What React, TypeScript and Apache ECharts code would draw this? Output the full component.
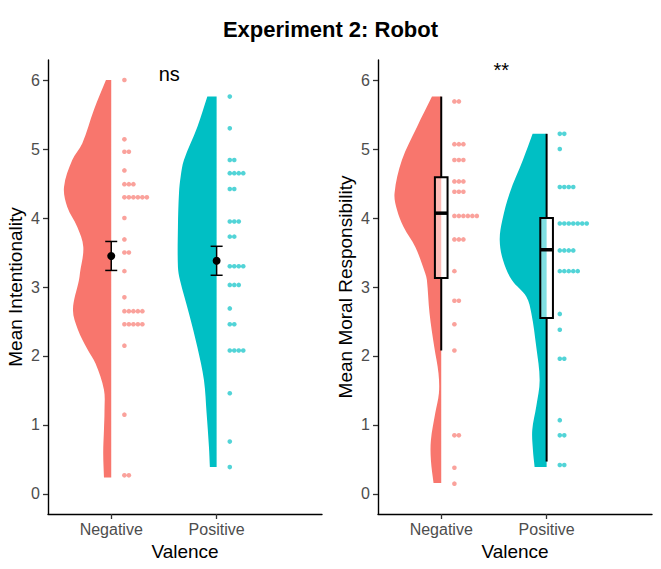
import React, { useEffect, useRef } from "react";
import * as echarts from "echarts";

const FONT = "'Liberation Sans', Arial, Helvetica, sans-serif";

const categories = ["Negative", "Positive"];
const yTicks = [0, 1, 2, 3, 4, 5, 6];
const colors = ["#F8766D", "#00BFC4"];
const dotColors = ["rgba(248,118,109,0.85)", "rgba(0,191,196,0.85)"];

// Panel 1: Mean Intentionality – individual scores
const intentNegative = [
  6.0, 5.14, 4.96, 4.96, 4.69, 4.49, 4.49, 4.49, 4.3, 4.3, 4.3, 4.3, 4.3, 4.3,
  4.0, 3.69, 3.5, 3.5, 3.23, 2.85, 2.65, 2.65, 2.65, 2.65, 2.65, 2.46, 2.46,
  2.46, 2.46, 2.46, 2.15, 1.15, 0.27, 0.27,
];
const intentPositive = [
  5.76, 5.3, 4.84, 4.84, 4.65, 4.65, 4.65, 4.65, 4.42, 4.42, 3.95, 3.95, 3.95,
  3.73, 3.73, 3.3, 3.3, 3.3, 3.3, 3.03, 3.03, 3.03, 2.69, 2.46, 2.46, 2.08,
  2.08, 2.08, 2.08, 1.46, 0.76, 0.39,
];
// Panel 1: mean and error bar
const intentMean = [3.45, 3.38];
const intentLow = [3.24, 3.17];
const intentHigh = [3.66, 3.59];

// Panel 2: Mean Moral Responsibility – individual scores
const moralNegative = [
  5.69, 5.69, 5.07, 5.07, 5.07, 4.84, 4.84, 4.84, 4.53, 4.53, 4.53, 4.38, 4.38,
  4.38, 4.03, 4.03, 4.03, 4.03, 4.03, 4.03, 3.69, 3.69, 3.69, 3.23, 2.8, 2.8,
  2.46, 2.08, 0.85, 0.85, 0.38, 0.15,
];
const moralPositive = [
  5.22, 5.22, 5.0, 4.45, 4.45, 4.45, 4.45, 3.92, 3.92, 3.92, 3.92, 3.92, 3.92,
  3.92, 3.53, 3.53, 3.53, 3.53, 3.23, 3.23, 3.23, 3.23, 3.23, 2.61, 2.38, 1.96,
  1.96, 1.07, 0.85, 0.85, 0.42, 0.42,
];
// Panel 2: boxplot stats
const moralMin = [2.08, 0.47];
const moralQ1 = [3.13, 2.55];
const moralMedian = [4.07, 3.54];
const moralQ3 = [4.59, 4.0];
const moralMax = [5.76, 5.22];

// Half-violin outlines: [score, half-width in category units]
const violinIntentNegative = [
  [6.0, 0.05], [5.57, 0.164], [5.08, 0.275], [4.84, 0.37], [4.45, 0.448],
  [4.16, 0.417], [3.87, 0.322], [3.58, 0.265], [3.2, 0.297], [3.1, 0.306],
  [2.67, 0.363], [2.38, 0.316], [2.1, 0.227], [1.89, 0.149], [1.51, 0.069],
  [1.2, 0.064], [0.93, 0.069], [0.59, 0.076], [0.24, 0.069],
];
const violinIntentPositive = [
  [5.76, 0.088], [5.32, 0.183], [4.84, 0.31], [4.6, 0.341], [4.36, 0.357],
  [3.87, 0.367], [3.29, 0.367], [3.1, 0.348], [2.62, 0.263], [2.13, 0.183],
  [1.65, 0.12], [1.17, 0.095], [0.69, 0.073], [0.39, 0.064],
];
const violinMoralNegative = [
  [5.76, 0.088], [5.32, 0.23], [4.84, 0.373], [4.36, 0.443], [4.12, 0.42],
  [3.87, 0.357], [3.58, 0.246], [3.2, 0.152], [3.1, 0.136], [2.62, 0.111],
  [2.13, 0.066], [1.75, 0.026], [1.46, 0.022], [1.17, 0.057], [0.78, 0.098],
  [0.49, 0.098], [0.16, 0.073],
];
const violinMoralPositive = [
  [5.22, 0.133], [4.84, 0.225], [4.36, 0.351], [3.97, 0.42], [3.68, 0.445],
  [3.39, 0.414], [3.1, 0.33], [2.86, 0.192], [2.62, 0.145], [2.13, 0.098],
  [1.65, 0.066], [1.27, 0.098], [0.93, 0.136], [0.64, 0.13], [0.39, 0.114],
];

// Significance labels
const annotations = [
  { grid: 0, x: 1.55, y: 6.08, text: "ns" },
  { grid: 1, x: 1.57, y: 6.15, text: "**" },
];

const DOT_OFFSET = 0.125;
const DOT_STEP = 0.0426;

function dotData(values: number[], center: number) {
  const counts: Record<string, number> = {};
  return values.map((v) => {
    const key = v.toFixed(3);
    const k = counts[key] || 0;
    counts[key] = k + 1;
    return [center + DOT_OFFSET + k * DOT_STEP, v];
  });
}

function violinSeries(outline: number[][], center: number, color: string, gridIndex: number) {
  return {
    type: "custom",
    xAxisIndex: gridIndex,
    yAxisIndex: gridIndex,
    silent: true,
    data: [[center, outline[0][0]]],
    renderItem: (params: any, api: any) => {
      const pts: number[][] = [];
      const top = outline[0][0];
      const bot = outline[outline.length - 1][0];
      const a = api.coord([center, top]);
      pts.push(a, a.slice());
      outline.forEach((row, i) => {
        const p = api.coord([center - row[1], row[0]]);
        pts.push(p);
        if (i === 0 || i === outline.length - 1) pts.push(p.slice());
      });
      const b = api.coord([center, bot]);
      pts.push(b, b.slice());
      return {
        type: "polygon",
        shape: { points: pts, smooth: 0.35 },
        style: { fill: color },
      };
    },
  };
}

export default function App() {
  const ref = useRef<HTMLDivElement>(null);

  useEffect(() => {
    document.body.style.margin = "0";
    if (!ref.current) return;
    const chart = echarts.init(ref.current, null, { renderer: "svg" });

    const grids = [
      { left: 48, top: 60, width: 274, height: 454 },
      { left: 378, top: 60, width: 274, height: 454 },
    ];
    const yNames = ["Mean Intentionality", "Mean Moral Responsibility"];

    const xAxis = [0, 1].map((i) => ({
      type: "value",
      gridIndex: i,
      min: 0.4,
      max: 3.0,
      axisLine: { show: true, onZero: false, lineStyle: { color: "#000", width: 1.4 } },
      axisTick: {
        show: true,
        customValues: [1, 2],
        length: 5,
        lineStyle: { color: "#333", width: 1.3 },
      },
      axisLabel: {
        customValues: [1, 2],
        formatter: (v: number) => categories[Math.round(v) - 1] || "",
        color: "#4d4d4d",
        fontSize: 16,
        margin: 7,
        fontFamily: FONT,
      },
      splitLine: { show: false },
      name: "Valence",
      nameLocation: "middle",
      nameGap: 27,
      nameTextStyle: { fontSize: 19, color: "#000", fontFamily: FONT },
    }));

    const yAxis = [0, 1].map((i) => ({
      type: "value",
      gridIndex: i,
      min: -0.29,
      max: 6.29,
      axisLine: { show: true, onZero: false, lineStyle: { color: "#000", width: 1.4 } },
      axisTick: {
        show: true,
        customValues: yTicks,
        length: 5,
        lineStyle: { color: "#333", width: 1.3 },
      },
      axisLabel: {
        customValues: yTicks,
        formatter: (v: number) => String(Math.round(v)),
        color: "#4d4d4d",
        fontSize: 16,
        margin: 8,
        fontFamily: FONT,
      },
      splitLine: { show: false },
      name: yNames[i],
      nameLocation: "middle",
      nameGap: 23,
      nameTextStyle: { fontSize: 19, color: "#000", fontFamily: FONT },
    }));

    const series: any[] = [
      violinSeries(violinIntentNegative, 1, colors[0], 0),
      violinSeries(violinIntentPositive, 2, colors[1], 0),
      violinSeries(violinMoralNegative, 1, colors[0], 1),
      violinSeries(violinMoralPositive, 2, colors[1], 1),
      {
        type: "scatter",
        xAxisIndex: 0,
        yAxisIndex: 0,
        symbolSize: 4.6,
        itemStyle: { color: dotColors[0] },
        data: dotData(intentNegative, 1),
      },
      {
        type: "scatter",
        xAxisIndex: 0,
        yAxisIndex: 0,
        symbolSize: 4.6,
        itemStyle: { color: dotColors[1] },
        data: dotData(intentPositive, 2),
      },
      {
        type: "custom",
        xAxisIndex: 0,
        yAxisIndex: 0,
        data: [0, 1].map((i) => [i + 1, intentMean[i], intentLow[i], intentHigh[i]]),
        renderItem: (params: any, api: any) => {
          const x = api.value(0);
          const m = api.coord([x, api.value(1)]);
          const lo = api.coord([x, api.value(2)]);
          const hi = api.coord([x, api.value(3)]);
          const capL = api.coord([x - 0.057, api.value(2)]);
          const capR = api.coord([x + 0.057, api.value(2)]);
          const capL2 = api.coord([x - 0.057, api.value(3)]);
          const capR2 = api.coord([x + 0.057, api.value(3)]);
          const ls = { stroke: "#000", lineWidth: 1.5 };
          return {
            type: "group",
            children: [
              { type: "line", shape: { x1: lo[0], y1: lo[1], x2: hi[0], y2: hi[1] }, style: ls },
              { type: "line", shape: { x1: capL[0], y1: capL[1], x2: capR[0], y2: capR[1] }, style: ls },
              { type: "line", shape: { x1: capL2[0], y1: capL2[1], x2: capR2[0], y2: capR2[1] }, style: ls },
              { type: "circle", shape: { cx: m[0], cy: m[1], r: 4 }, style: { fill: "#000" } },
            ],
          };
        },
      },
      {
        type: "custom",
        xAxisIndex: 1,
        yAxisIndex: 1,
        data: [0, 1].map((i) => [i + 1, moralMin[i], moralQ1[i], moralMedian[i], moralQ3[i], moralMax[i]]),
        renderItem: (params: any, api: any) => {
          const x = api.value(0);
          const hw = 0.06;
          const pMin = api.coord([x, api.value(1)]);
          const pQ1 = api.coord([x, api.value(2)]);
          const pQ3 = api.coord([x, api.value(4)]);
          const pMax = api.coord([x, api.value(5)]);
          const bl = api.coord([x - hw, api.value(4)]);
          const br = api.coord([x + hw, api.value(2)]);
          const mL = api.coord([x - hw, api.value(3)]);
          const mR = api.coord([x + hw, api.value(3)]);
          const ls = { stroke: "#000", lineWidth: 2 };
          return {
            type: "group",
            children: [
              { type: "line", shape: { x1: pQ3[0], y1: pQ3[1], x2: pMax[0], y2: pMax[1] }, style: ls },
              { type: "line", shape: { x1: pQ1[0], y1: pQ1[1], x2: pMin[0], y2: pMin[1] }, style: ls },
              {
                type: "rect",
                shape: { x: bl[0], y: bl[1], width: br[0] - bl[0], height: br[1] - bl[1] },
                style: { fill: "rgba(255,255,255,0.5)", stroke: "#000", lineWidth: 2 },
              },
              { type: "line", shape: { x1: mL[0], y1: mL[1], x2: mR[0], y2: mR[1] }, style: { stroke: "#000", lineWidth: 3.5 } },
            ],
          };
        },
      },
      {
        type: "scatter",
        xAxisIndex: 1,
        yAxisIndex: 1,
        symbolSize: 4.6,
        itemStyle: { color: dotColors[0] },
        data: dotData(moralNegative, 1),
      },
      {
        type: "scatter",
        xAxisIndex: 1,
        yAxisIndex: 1,
        symbolSize: 4.6,
        itemStyle: { color: dotColors[1] },
        data: dotData(moralPositive, 2),
      },
      ...annotations.map((a) => ({
        type: "custom",
        xAxisIndex: a.grid,
        yAxisIndex: a.grid,
        silent: true,
        data: [[a.x, a.y]],
        renderItem: (params: any, api: any) => {
          const p = api.coord([api.value(0), api.value(1)]);
          return {
            type: "text",
            x: p[0],
            y: p[1],
            style: {
              text: a.text,
              fontSize: 20,
              fontFamily: FONT,
              fill: "#000",
              align: "center",
              verticalAlign: "middle",
            },
          };
        },
      })),
    ];

    chart.setOption({
      animation: false,
      backgroundColor: "#fff",
      title: {
        text: "Experiment 2: Robot",
        left: "center",
        top: 13,
        textStyle: { fontSize: 22, fontWeight: "bold", color: "#000", fontFamily: FONT },
      },
      grid: grids,
      xAxis,
      yAxis,
      series,
    });

    return () => chart.dispose();
  }, []);

  return (
    <div
      ref={ref}
      style={{ width: 661, height: 569, position: "absolute", left: 0, top: 0 }}
    />
  );
}
